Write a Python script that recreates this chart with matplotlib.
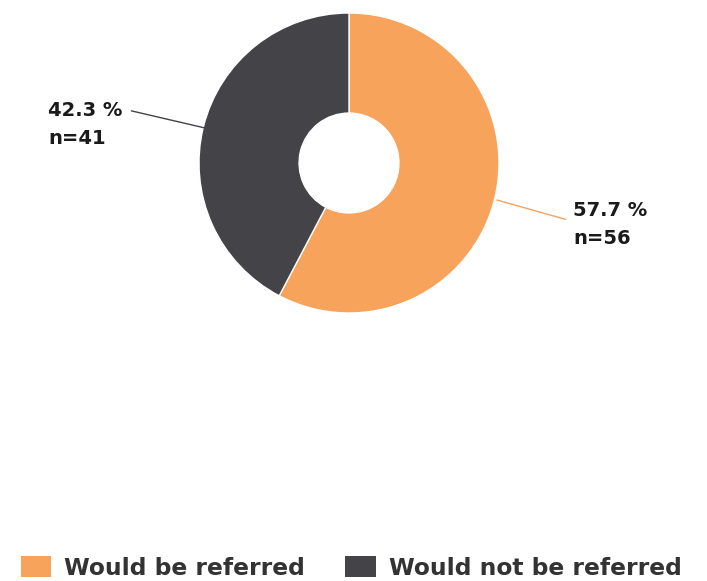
import matplotlib.pyplot as plt
from matplotlib.patches import Patch

labels = ["Would be referred", "Would not be referred"]
percents = [57.7, 42.3]
counts = [56, 41]
colors = ["#f7a35c", "#434348"]

W, H = 707, 581
fig = plt.figure(figsize=(W / 100, H / 100), dpi=100)

# pie axes: centre ~(349,163), radius ~150 px
ax = fig.add_axes([199 / W, 1 - 313 / H, 300 / W, 300 / H])
wedges, _ = ax.pie(percents, colors=colors, startangle=90, counterclock=False,
                   radius=1.0, wedgeprops=dict(width=0.667, linewidth=1, edgecolor="white"))
ax.set_xlim(-1, 1)
ax.set_ylim(-1, 1)
ax.set_aspect("equal")
ax.axis("off")

def px(x, y):
    return (x / W, 1 - y / H)

txt = dict(fontsize=14, fontweight="bold", color="#1a1a1a", family="DejaVu Sans",
           linespacing=1.6)

# orange label
ax.annotate(f"{percents[0]} %\nn={counts[0]}", xy=px(497, 200), xycoords="figure fraction",
            xytext=px(573, 225), textcoords="figure fraction", ha="left", va="center",
            arrowprops=dict(arrowstyle="-", color=colors[0], lw=1, shrinkA=0, shrinkB=0,
                            relpos=(-0.1, 0.62)), **txt)
ax.annotate(f"{percents[1]} %\nn={counts[1]}", xy=px(205, 128), xycoords="figure fraction",
            xytext=px(48, 124), textcoords="figure fraction", ha="left", va="center",
            arrowprops=dict(arrowstyle="-", color=colors[1], lw=1, shrinkA=0, shrinkB=0,
                            relpos=(1.12, 0.78)), **txt)

handles = [Patch(facecolor=c, edgecolor="none") for c in colors]
fig.legend(handles, labels, loc="center", bbox_to_anchor=(351 / W, 1 - 568 / H),
           ncol=2, frameon=False, handlelength=1.3, handleheight=0.96,
           columnspacing=1.75, handletextpad=0.55,
           prop=dict(size=16.8, weight="bold", family="DejaVu Sans"), labelcolor="#333333")

fig.savefig("out.png", dpi=100)
